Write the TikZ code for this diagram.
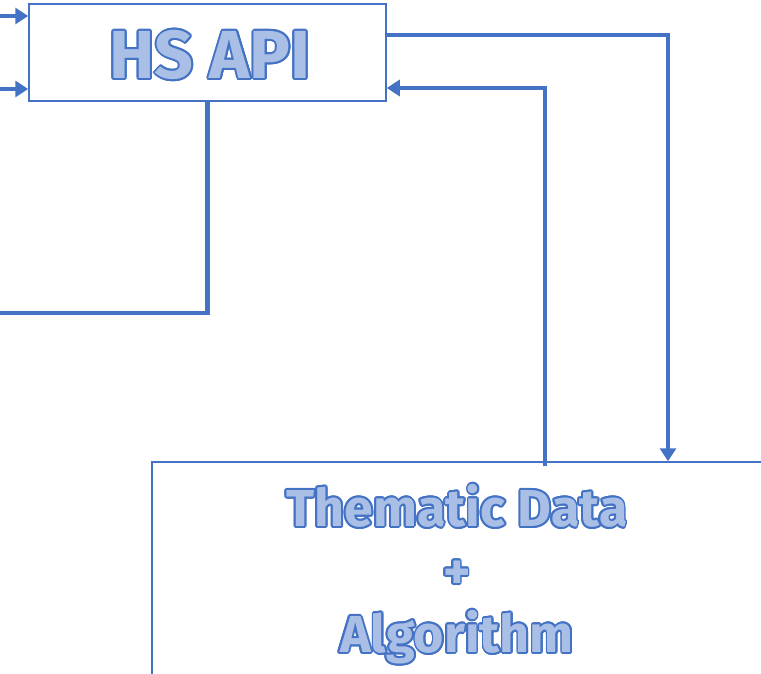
\documentclass[tikz,border=0pt]{standalone}
\usepackage{fontspec}
\usepackage{contour}
\usetikzlibrary{arrows.meta}

\newfontfamily\artfont{Fira Sans}
\definecolor{lineblue}{HTML}{4472C4}
\definecolor{fillblue}{HTML}{A9BFE6}
\contourlength{1.8pt}
\newcommand{\arttext}[1]{\contour{lineblue}{\textcolor{fillblue}{#1}}}

\tikzset{
  box/.style={draw=lineblue, line width=1.5pt, fill=white, align=center, inner sep=0pt},
  flow/.style={draw=lineblue, line width=4.5pt},
  tip/.style={-{Triangle[length=13pt,width=16pt]}}
}

\begin{document}
\begin{tikzpicture}[x=1pt,y=-1pt]
\useasboundingbox (0,0) rectangle (761,674);

\node[box, minimum width=357, minimum height=97] (api) at (207.5,52.5) {};
\node[font=\artfont\bfseries\fontsize{68}{68}\selectfont] (apiname) at (210,56)
  {\arttext{HS API}};
\node[box, minimum width=610, minimum height=226,
      font=\artfont\bfseries\fontsize{52}{63}\selectfont] (data) at (457,575)
  {\arttext{Thematic Data}\\ \arttext{+}\\ \arttext{Algorithm}};

% inputs on the left
\coordinate (inA) at (0,16);
\coordinate (inB) at (0,89);
\draw[flow, tip] (inA) -- (inA -| api.west);
\draw[flow, tip] (inB) -- (inB -| api.west);

% output going left
\coordinate (outL) at (0,313);
\draw[flow] (api.south) |- (outL);

% loop down to the data box and back up
\coordinate (rcol) at (668,35);
\coordinate (lcol) at (545,88);
\draw[flow, tip] (api.east |- rcol) -| (data.north -| rcol);
\draw[flow, tip] ([yshift=-5pt]data.north -| lcol) |- (api.east |- lcol);
\end{tikzpicture}
\end{document}
